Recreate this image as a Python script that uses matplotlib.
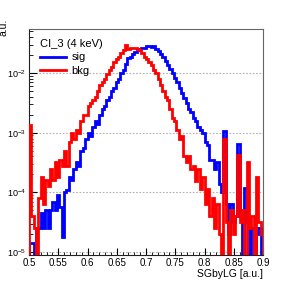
import numpy as np
import matplotlib
matplotlib.use("Agg")
import matplotlib.pyplot as plt
from matplotlib.ticker import MultipleLocator, LogLocator

plt.rcParams['font.family'] = ['Liberation Sans', 'DejaVu Sans']
plt.rcParams['mathtext.fontset'] = 'custom'
plt.rcParams['mathtext.rm'] = 'Liberation Sans'
plt.rcParams['mathtext.it'] = 'Liberation Sans'

# histogram binning (SGbyLG)
bin_edges = np.linspace(0.5, 0.9, 101)

# signal (blue), normalized per bin, 0 = empty bin
sig = [1.4e-5, 1.4e-5, 0, 2.5e-5, 2.5e-5, 4.5e-5, 2.5e-5, 5.0e-5, 2.5e-5, 5.0e-5,
       7.0e-5, 5.0e-5, 9.0e-5, 5.6e-5, 1.8e-5, 1.0e-4, 1.1e-4, 1.8e-4, 1.6e-4, 2.5e-4,
       3.2e-4, 2.8e-4, 5.0e-4, 5.6e-4, 7.9e-4, 1.0e-3, 8.9e-4, 1.26e-3, 1.6e-3, 1.4e-3,
       2.0e-3, 2.5e-3, 2.8e-3, 3.5e-3, 4.0e-3, 5.0e-3, 5.6e-3, 7.1e-3, 7.9e-3, 1.0e-2,
       1.12e-2, 1.41e-2, 1.78e-2, 1.9e-2, 2.09e-2, 2.24e-2, 2.4e-2, 2.51e-2, 2.63e-2, 2.69e-2,
       2.82e-2, 2.88e-2, 2.75e-2, 2.82e-2, 2.51e-2, 2.34e-2, 2.09e-2, 1.9e-2, 1.58e-2, 1.38e-2,
       1.17e-2, 1.0e-2, 8.3e-3, 7.1e-3, 5.6e-3, 4.7e-3, 3.8e-3, 3.2e-3, 2.5e-3, 2.24e-3,
       1.78e-3, 1.58e-3, 1.26e-3, 1.12e-3, 1.0e-3, 7.1e-4, 6.3e-4, 3.5e-4, 3.5e-4, 2.5e-4,
       3.2e-4, 1.4e-4, 1.0e-4, 1.05e-3, 6.3e-5, 2.0e-5, 6.3e-5, 3.2e-5, 4.0e-5, 6.6e-4,
       4.0e-5, 0, 1.2e-4, 3.2e-5, 0, 2.5e-5, 0, 2.0e-5, 2.5e-5, 0]

# background (red)
bkg = [1.35e-3, 4.0e-5, 2.5e-5, 0, 7.9e-5, 1.8e-4, 6.3e-5, 1.6e-4, 1.26e-4, 2.5e-4,
       1.6e-4, 3.2e-4, 1.8e-4, 3.5e-4, 2.8e-4, 5.0e-4, 2.8e-4, 7.1e-4, 1.0e-3, 7.9e-4,
       1.12e-3, 1.0e-3, 1.58e-3, 2.0e-3, 2.0e-3, 2.8e-3, 3.2e-3, 3.5e-3, 4.0e-3, 5.0e-3,
       6.3e-3, 7.1e-3, 7.9e-3, 9.5e-3, 1.12e-2, 1.26e-2, 1.51e-2, 1.7e-2, 1.9e-2, 2.14e-2,
       2.4e-2, 2.95e-2, 2.51e-2, 2.63e-2, 2.69e-2, 2.69e-2, 2.51e-2, 2.4e-2, 2.19e-2, 1.9e-2,
       1.74e-2, 1.51e-2, 1.35e-2, 1.12e-2, 1.0e-2, 7.9e-3, 6.3e-3, 5.0e-3, 4.0e-3, 3.5e-3,
       2.5e-3, 1.78e-3, 1.58e-3, 1.12e-3, 7.9e-4, 8.9e-4, 4.0e-4, 3.2e-4, 4.0e-4, 2.5e-4,
       2.8e-4, 1.58e-4, 2.5e-4, 1.12e-4, 1.78e-4, 6.3e-5, 1.12e-4, 4.0e-5, 7.9e-5, 2.5e-5,
       6.3e-5, 2.0e-5, 0, 7.9e-4, 3.2e-5, 0, 5.0e-5, 2.0e-5, 4.0e-5, 4.2e-4,
       3.2e-5, 5.0e-5, 0, 3.2e-4, 2.5e-5, 4.0e-5, 0, 1.8e-4, 3.2e-5, 2.0e-5]

series_labels = ["sig", "bkg"]
series_colors = ["#0000ff", "#ff0000"]
legend_title = "CI_3 (4 keV)"
x_label = "SGbyLG [a.u.]"
y_label = "a.u."
x_ticks = [0.5, 0.55, 0.6, 0.65, 0.7, 0.75, 0.8, 0.85, 0.9]
x_ticklabels = ["0.5", "0.55", "0.6", "0.65", "0.7", "0.75", "0.8", "0.85", "0.9"]

fig = plt.figure(figsize=(2.93, 2.84), dpi=100)
ax = fig.add_axes([29/293, 29/284, 234/293, 226/284])

floor = 1e-9
for vals, col, lab in zip([sig, bkg], series_colors, series_labels):
    v = np.asarray(vals, dtype=float)
    v = np.where(v > 0, v, floor)
    ax.stairs(v, bin_edges, baseline=floor, color=col, lw=2.0, label=lab, zorder=3)

ax.set_xlim(0.5, 0.9)
ax.set_yscale('log')
ax.set_ylim(8.9e-6, 0.055)

for yv in [1e-5, 1e-4, 1e-3, 1e-2]:
    ax.axhline(yv, color='#b0b0b0', lw=0.8, ls=(0, (1.5, 1.5)), zorder=1)

ax.xaxis.set_minor_locator(MultipleLocator(0.01))
ax.yaxis.set_major_locator(LogLocator(base=10, numticks=10))
ax.yaxis.set_minor_locator(LogLocator(base=10, subs=np.arange(2, 10), numticks=10))
ax.tick_params(axis='both', which='both', direction='in', top=False, right=False)
ax.tick_params(axis='x', which='major', length=5, width=0.8, pad=2, labelsize=7)
ax.tick_params(axis='x', which='minor', length=2.5, width=0.6)
ax.tick_params(axis='y', which='major', length=6, width=0.8, pad=2, labelsize=6.5)
ax.tick_params(axis='y', which='minor', length=3, width=0.6)
ax.set_xticks(x_ticks)
ax.set_xticklabels(x_ticklabels)

for s in ['left', 'bottom']:
    ax.spines[s].set_color('#222222')
    ax.spines[s].set_linewidth(0.8)
for s in ['top', 'right']:
    ax.spines[s].set_color('#666666')
    ax.spines[s].set_linewidth(0.8)

fig.text(263/293, 1 - 274/284, x_label, ha='right', va='center', fontsize=7.5)
fig.text(4/293, 1 - 27/284, y_label, ha='center', va='center', rotation=90, fontsize=7.5)

leg = ax.legend(loc='upper left', bbox_to_anchor=(0.02, 0.985), frameon=False,
                title=legend_title, fontsize=8, title_fontsize=8,
                handlelength=2.3, handletextpad=0.5, labelspacing=0.3,
                borderaxespad=0.2)
leg._legend_box.align = "left"

fig.savefig("out.png", dpi=100)
